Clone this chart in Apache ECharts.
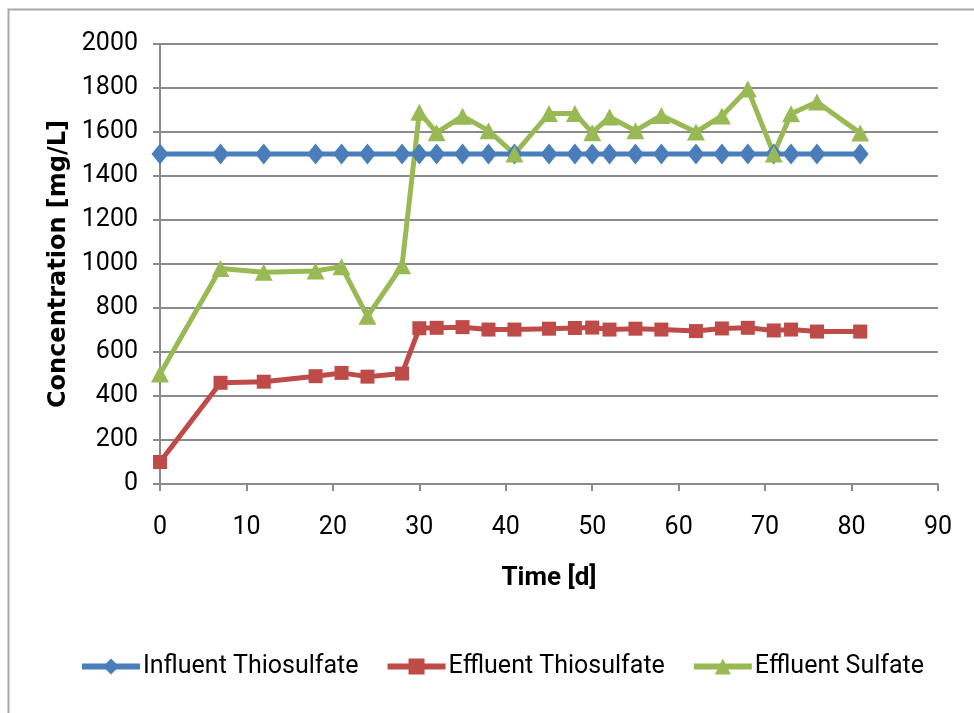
<!DOCTYPE html>
<html>
<head>
<meta charset="utf-8">
<script src="https://cdn.jsdelivr.net/npm/echarts@6/dist/echarts.min.js"></script>
<style>
  html, body { margin: 0; padding: 0; background: #fff; }
  #chart { width: 974px; height: 713px; }
</style>
</head>
<body>
<div id="chart"></div>
<script>
// sampling days
const days = [0, 7, 12, 18, 21, 24, 28, 30, 32, 35, 38, 41, 45, 48, 50, 52, 55, 58, 62, 65, 68, 71, 73, 76, 81];

// concentrations in mg/L
const influentThio = [1500, 1500, 1500, 1500, 1500, 1500, 1500, 1500, 1500, 1500, 1500, 1500, 1500,
  1500, 1500, 1500, 1500, 1500, 1500, 1500, 1500, 1500, 1500, 1500, 1500];
const effluentThio = [100, 460, 465, 490, 505, 488, 502, 708, 710, 713, 702, 702, 706, 709, 711, 702,
  706, 702, 695, 707, 710, 698, 702, 693, 693];
const effluentSulfate = [500, 980, 962, 968, 988, 762, 992, 1690, 1597, 1672, 1606, 1500, 1684, 1684,
  1597, 1668, 1606, 1675, 1600, 1673, 1795, 1500, 1683, 1736, 1595];

const seriesNames = ["Influent Thiosulfate", "Effluent Thiosulfate", "Effluent Sulfate"];

const toPairs = (vals) => days.map((d, i) => [d, vals[i]]);

const chart = echarts.init(document.getElementById("chart"));
const gridColor = "#8a8a8a";
const labelFont = "'Liberation Sans Narrow', 'Roboto', sans-serif";

const option = {
  animation: false,
  backgroundColor: "#fff",
  graphic: [
    {
      // outer frame of the chart area
      type: "rect",
      left: 6,
      top: 7,
      z: -1,
      shape: { width: 1000, height: 1000 },
      style: { fill: "none", stroke: "#a8a8a8", lineWidth: 2 },
    },
  ],
  grid: {
    left: 160,
    right: 36,
    top: 44,
    bottom: 229,
  },
  legend: {
    left: 79,
    right: 0,
    top: 654,
    padding: 0,
    itemWidth: 58,
    itemHeight: 20,
    itemGap: 26,
    lineStyle: { width: 6 },
    textStyle: {
      fontFamily: labelFont,
      fontSize: 25,
      color: "#000",
      padding: [0, 0, 0, -2],
    },
    data: seriesNames,
  },
  xAxis: {
    type: "value",
    min: 0,
    max: 90,
    interval: 10,
    name: "Time [d]",
    nameLocation: "middle",
    nameGap: 81,
    nameTextStyle: {
      fontFamily: labelFont,
      fontWeight: "bold",
      fontSize: 26,
      color: "#000",
    },
    axisLine: { lineStyle: { color: gridColor, width: 2 } },
    axisTick: { show: true, length: 7, lineStyle: { color: gridColor, width: 2 } },
    axisLabel: {
      fontFamily: labelFont,
      fontSize: 25,
      color: "#000",
      margin: 31,
    },
    splitLine: { show: false },
  },
  yAxis: {
    type: "value",
    min: 0,
    max: 2000,
    interval: 200,
    name: "Concentration [mg/L]",
    nameLocation: "middle",
    nameGap: 82,
    nameRotate: 90,
    nameTextStyle: {
      fontFamily: "'DejaVu Sans', sans-serif",
      fontWeight: "bold",
      fontSize: 24,
      color: "#000",
    },
    axisLine: { show: true, lineStyle: { color: gridColor, width: 2 } },
    axisTick: { show: true, length: 7, lineStyle: { color: gridColor, width: 2 } },
    axisLabel: {
      fontFamily: labelFont,
      fontSize: 25,
      color: "#000",
      margin: 22,
      formatter: (v) => String(v),
    },
    splitLine: { show: true, lineStyle: { color: gridColor, width: 2 } },
  },
  series: [
    {
      name: seriesNames[0],
      type: "line",
      data: toPairs(influentThio),
      symbol: "diamond",
      symbolSize: [17, 21],
      lineStyle: { color: "#4a7ebb", width: 5 },
      itemStyle: { color: "#4a7ebb" },
    },
    {
      name: seriesNames[1],
      type: "line",
      data: toPairs(effluentThio),
      symbol: "rect",
      symbolSize: 14,
      lineStyle: { color: "#be4b48", width: 5 },
      itemStyle: { color: "#be4b48" },
    },
    {
      name: seriesNames[2],
      type: "line",
      data: toPairs(effluentSulfate),
      symbol: "triangle",
      symbolSize: [18, 17],
      lineStyle: { color: "#98b954", width: 5 },
      itemStyle: { color: "#98b954" },
    },
  ],
};

chart.setOption(option);
</script>
</body>
</html>
